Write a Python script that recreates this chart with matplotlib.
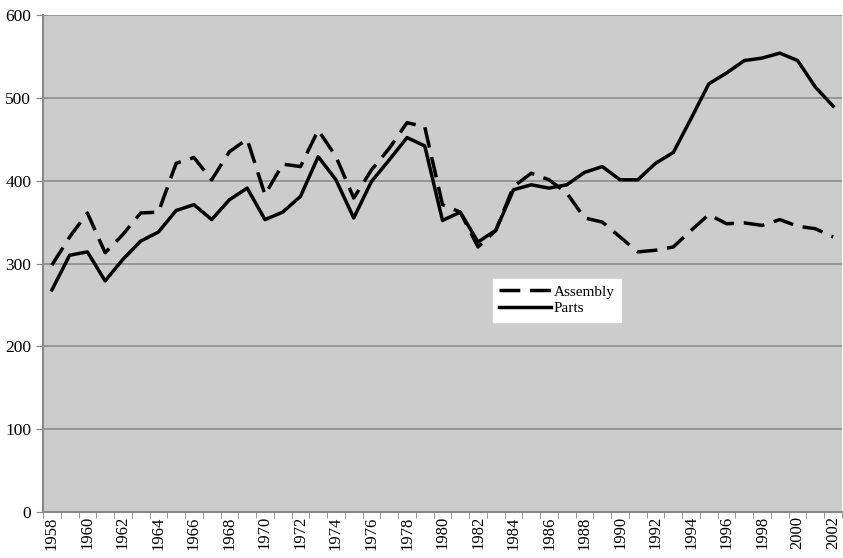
import matplotlib
matplotlib.use("Agg")
import matplotlib.pyplot as plt
import numpy as np

years = list(range(1958, 2003))

assembly = [298, 332, 361, 313, 335, 361, 362, 421, 428, 401,
            435, 450, 383, 420, 417, 461, 429, 379, 413, 439,
            470, 465, 371, 362, 320, 340, 393, 409, 401, 385,
            355, 350, 332, 314, 316, 320, 340, 359, 348, 349,
            346, 353, 345, 342, 332]

parts = [268, 310, 314, 279, 305, 327, 338, 364, 371, 353,
         377, 391, 353, 362, 381, 429, 401, 355, 399, 425,
         452, 442, 352, 362, 326, 340, 389, 395, 391, 395,
         410, 417, 401, 401, 421, 434, 475, 517, 530, 545,
         548, 554, 545, 513, 490]

plt.rcParams['font.family'] = ['Liberation Serif', 'DejaVu Serif']

fig = plt.figure(figsize=(8.43, 5.58), dpi=100)
ax = fig.add_axes([43/843, 46/558, 799/843, 497/558])
ax.set_facecolor('#cccccc')

x = np.arange(len(years))
ax.plot(x, assembly, color='black', lw=2.5, dashes=(6, 2.8), label='Assembly')
ax.plot(x, parts, color='black', lw=2.5, label='Parts')

ax.set_xlim(-0.5, len(years) - 0.5)
ax.set_ylim(0, 600)
ax.set_yticks(range(0, 601, 100))
ax.yaxis.grid(True, color='#8c8c8c', lw=1.2)
ax.set_axisbelow(True)

ax.set_xticks(x[::2])
ax.set_xticklabels([str(y) for y in years[::2]], rotation=90, fontsize=12)
ax.set_xticks(np.arange(-0.5, len(years), 1), minor=True)
ax.tick_params(axis='x', which='major', length=0, pad=3)
ax.tick_params(axis='x', which='minor', length=4, color='#888888')
ax.tick_params(axis='y', length=5, color='#888888', labelsize=12.5)

for s in ['top', 'right']:
    ax.spines[s].set_visible(False)
ax.spines['left'].set_color('#888888')
ax.spines['left'].set_linewidth(1.5)
ax.spines['bottom'].set_color('#888888')
ax.spines['bottom'].set_linewidth(1.5)

leg = ax.legend(loc='upper left', bbox_to_anchor=(0.563, 0.469), fontsize=11,
                frameon=True, fancybox=False, handlelength=3.4, handletextpad=0.2,
                borderpad=0.4, labelspacing=0.2, borderaxespad=0)
leg.get_frame().set_edgecolor('white')
leg.get_frame().set_alpha(1)

plt.savefig('out.png', dpi=100)
